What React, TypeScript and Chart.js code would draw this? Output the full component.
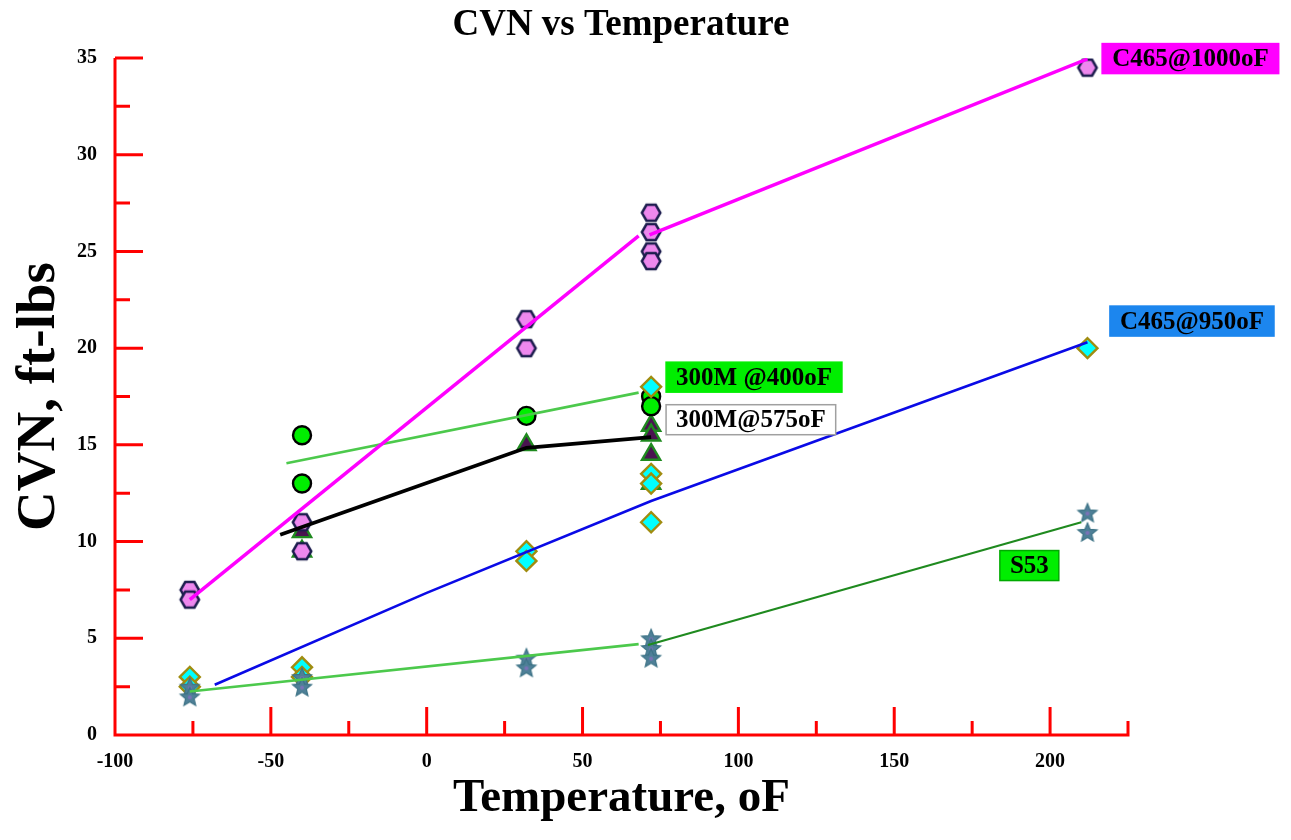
import React, { useEffect, useRef } from 'react';
import { Chart, registerables } from 'chart.js';

Chart.register(...registerables);

// ---------- tick values / labels ----------
const xTickValues = [-100, -75, -50, -25, 0, 25, 50, 75, 100, 125, 150, 175, 200, 225];
const xTickLabels = ['-100', '', '-50', '', '0', '', '50', '', '100', '', '150', '', '200', ''];
const yTickValues = [0, 2.5, 5, 7.5, 10, 12.5, 15, 17.5, 20, 22.5, 25, 27.5, 30, 32.5, 35];
const yTickLabels = ['0', '', '5', '', '10', '', '15', '', '20', '', '25', '', '30', '', '35'];

// ---------- measured points ----------
const c1000Temp = [-76, -76, -40, -40, 32, 32, 72, 72, 72, 72, 212];
const c1000Cvn = [7.5, 7.0, 11.0, 9.5, 21.5, 20.0, 27.0, 26.0, 25.0, 24.5, 34.5];

const c950Temp = [-76, -76, -40, -40, 32, 32, 72, 72, 72, 72, 212];
const c950Cvn = [3.0, 2.5, 3.5, 3.0, 9.5, 9.0, 18.0, 13.5, 13.0, 11.0, 20.0];

const m400Temp = [-40, -40, 32, 72, 72];
const m400Cvn = [15.5, 13.0, 16.5, 17.5, 17.0];

const m575Temp = [-40, -40, 32, 72, 72, 72, 72];
const m575Cvn = [10.5, 9.5, 15.0, 16.0, 15.5, 14.5, 13.0];

const s53Temp = [-76, -76, -40, -40, 32, 32, 72, 72, 72, 212, 212];
const s53Cvn = [2.5, 2.0, 3.0, 2.5, 4.0, 3.5, 5.0, 4.5, 4.0, 11.5, 10.5];

// ---------- fitted curves ----------
const c1000FitATemp = [-76, 68];
const c1000FitACvn = [7.0, 25.8];
const c1000FitBTemp = [71.5, 212];
const c1000FitBCvn = [25.85, 34.95];

const c950FitTemp = [-68, 0, 72, 212];
const c950FitCvn = [2.6, 7.35, 12.1, 20.3];

const m400FitTemp = [-45, 68];
const m400FitCvn = [14.05, 17.7];

const m575FitTemp = [-47, 32, 72];
const m575FitCvn = [10.35, 14.85, 15.4];

const s53FitATemp = [-76, 68];
const s53FitACvn = [2.25, 4.7];
const s53FitBTemp = [71, 210];
const s53FitBCvn = [4.65, 11.0];

// ---------- series labels ----------
const labelTexts = ['C465@1000oF', 'C465@950oF', '300M @400oF', '300M@575oF', 'S53'];
const labelTemp = [216.7, 219.2, 76.8, 76.8, 183.9];
const labelCvn = [34.97, 21.4, 18.5, 16.3, 8.76];
const labelFills = ['#ff00ff', '#1c86ee', '#00ee00', '#ffffff', '#00ee00'];
const labelBorders = ['#ff00ff', '#1c86ee', '#00ee00', '#a0a0a0', '#00aa00'];

const SERIF = '"Liberation Serif", "Times New Roman", serif';

const pts = (xs: number[], ys: number[]) => xs.map((x, i) => ({ x, y: ys[i] }));

function makeCanvas(w: number, h: number) {
  const c = document.createElement('canvas');
  c.width = w;
  c.height = h;
  return c;
}

function makeHexagon(r: number, fill: string, stroke: string, lw: number) {
  const size = Math.ceil(2 * r + 2 * lw + 2);
  const c = makeCanvas(size, size);
  const g = c.getContext('2d')!;
  const cx = size / 2;
  g.beginPath();
  for (let i = 0; i < 6; i++) {
    const a = (Math.PI / 3) * i;
    const px = cx + r * Math.cos(a);
    const py = cx + r * Math.sin(a);
    if (i === 0) g.moveTo(px, py);
    else g.lineTo(px, py);
  }
  g.closePath();
  g.fillStyle = fill;
  g.fill();
  g.lineWidth = lw;
  g.strokeStyle = stroke;
  g.stroke();
  return c;
}

function makeStar(ro: number, ri: number, fill: string, stroke: string, center: string) {
  const size = Math.ceil(2 * ro + 4);
  const c = makeCanvas(size, size);
  const g = c.getContext('2d')!;
  const cx = size / 2;
  const cy = size / 2 + 1;
  g.beginPath();
  for (let i = 0; i < 10; i++) {
    const r = i % 2 === 0 ? ro : ri;
    const a = -Math.PI / 2 + (Math.PI / 5) * i;
    const px = cx + r * Math.cos(a);
    const py = cy + r * Math.sin(a);
    if (i === 0) g.moveTo(px, py);
    else g.lineTo(px, py);
  }
  g.closePath();
  g.fillStyle = fill;
  g.fill();
  g.lineWidth = 1.2;
  g.strokeStyle = stroke;
  g.stroke();
  g.beginPath();
  g.arc(cx, cy, 2, 0, Math.PI * 2);
  g.fillStyle = center;
  g.fill();
  return c;
}

const axesPlugin = {
  id: 'redAxes',
  beforeDatasetsDraw(chart: any) {
    const { ctx, chartArea, scales } = chart;
    const { left, right, top, bottom } = chartArea;
    const x = scales.x;
    const y = scales.y;
    ctx.save();
    ctx.strokeStyle = '#ff0000';
    ctx.lineWidth = 3;
    ctx.beginPath();
    ctx.moveTo(left, top);
    ctx.lineTo(left, bottom);
    ctx.lineTo(right + 1.5, bottom);
    xTickValues.forEach((v, i) => {
      const px = x.getPixelForValue(v);
      const len = xTickLabels[i] !== '' ? 28 : 14;
      ctx.moveTo(px, bottom);
      ctx.lineTo(px, bottom - len);
    });
    yTickValues.forEach((v, i) => {
      const py = y.getPixelForValue(v);
      const len = yTickLabels[i] !== '' ? 28 : 15;
      ctx.moveTo(left, py);
      ctx.lineTo(left + len, py);
    });
    ctx.stroke();
    ctx.restore();
  },
};

const labelPlugin = {
  id: 'seriesLabels',
  afterDraw(chart: any) {
    const { ctx, scales } = chart;
    ctx.save();
    ctx.font = `bold 25px ${SERIF}`;
    ctx.textBaseline = 'middle';
    ctx.textAlign = 'left';
    labelTexts.forEach((text, i) => {
      const px = scales.x.getPixelForValue(labelTemp[i]);
      const py = scales.y.getPixelForValue(labelCvn[i]);
      const w = ctx.measureText(text).width + 20;
      const h = 30;
      ctx.fillStyle = labelFills[i];
      ctx.fillRect(px, py - h / 2, w, h);
      ctx.strokeStyle = labelBorders[i];
      ctx.lineWidth = 1.5;
      ctx.strokeRect(px, py - h / 2, w, h);
      ctx.fillStyle = '#000000';
      ctx.fillText(text, px + 10, py + 1);
    });
    ctx.restore();
  },
};

export default function App() {
  const canvasRef = useRef<HTMLCanvasElement | null>(null);

  useEffect(() => {
    if (!canvasRef.current) return;
    const hexagon = makeHexagon(9.2, '#ee88ee', '#1c1c4e', 2.5);
    const star = makeStar(10, 4.5, '#4f8098', '#3d7386', '#7b72b8');

    const line = (xs: number[], ys: number[], color: string, width: number, order: number) => ({
      data: pts(xs, ys),
      showLine: true,
      borderColor: color,
      borderWidth: width,
      pointRadius: 0,
      pointHoverRadius: 0,
      fill: false,
      order,
    });

    const chart = new Chart(canvasRef.current, {
      type: 'scatter',
      data: {
        datasets: [
          line(c1000FitATemp, c1000FitACvn, '#ff00ff', 3.5, 0),
          line(c1000FitBTemp, c1000FitBCvn, '#ff00ff', 3.5, 0),
          line(c950FitTemp, c950FitCvn, '#0a0ae6', 2.6, 1),
          line(m575FitTemp, m575FitCvn, '#000000', 3.8, 2),
          line(m400FitTemp, m400FitCvn, '#4cc94c', 2.6, 3),
          line(s53FitATemp, s53FitACvn, '#4cc94c', 2.6, 4),
          line(s53FitBTemp, s53FitBCvn, '#1f8a1f', 2.2, 5),
          {
            label: 'S53',
            data: pts(s53Temp, s53Cvn),
            pointStyle: star,
            pointRadius: 9,
            order: 10,
          },
          {
            label: 'C465@950oF',
            data: pts(c950Temp, c950Cvn),
            pointStyle: 'rectRot',
            pointRadius: 10,
            backgroundColor: '#00ffff',
            borderColor: '#a08c10',
            pointBorderWidth: 2.4,
            order: 11,
          },
          {
            label: 'C465@1000oF',
            data: pts(c1000Temp, c1000Cvn),
            pointStyle: hexagon,
            pointRadius: 9,
            order: 12,
          },
          {
            label: '300M @400oF',
            data: pts(m400Temp, m400Cvn),
            pointStyle: 'circle',
            pointRadius: 9,
            backgroundColor: '#00ee00',
            borderColor: '#000000',
            pointBorderWidth: 2.4,
            order: 13,
          },
          {
            label: '300M@575oF',
            data: pts(m575Temp, m575Cvn),
            pointStyle: 'triangle',
            pointRadius: 10.5,
            backgroundColor: '#4a1450',
            borderColor: '#1f8a1f',
            pointBorderWidth: 2.4,
            order: 14,
          },
        ] as any,
      },
      options: {
        animation: false,
        responsive: true,
        maintainAspectRatio: false,
        layout: { padding: { left: 0, right: 49, top: 0, bottom: 0 } },
        plugins: {
          legend: { display: false },
          tooltip: { enabled: false },
          title: {
            display: true,
            text: 'CVN vs Temperature',
            color: '#000000',
            font: { family: SERIF, size: 37, weight: 'bold' },
            padding: { top: 3, bottom: 10.6 },
          },
        },
        scales: {
          x: {
            type: 'linear',
            min: -100,
            max: 225,
            grid: { display: false, drawTicks: false },
            border: { display: false },
            afterBuildTicks: (scale: any) => {
              scale.ticks = xTickValues.map((v) => ({ value: v }));
            },
            afterFit: (scale: any) => {
              scale.height = 105;
            },
            ticks: {
              autoSkip: false,
              maxRotation: 0,
              padding: 15,
              color: '#000000',
              font: { family: SERIF, size: 20, weight: 'bold' },
              callback: (_v: any, i: number) => xTickLabels[i],
            },
            title: {
              display: true,
              text: 'Temperature, oF',
              color: '#000000',
              font: { family: SERIF, size: 47, weight: 'bold' },
              padding: { top: 0, bottom: 13 },
            },
          },
          y: {
            type: 'linear',
            min: 0,
            max: 35,
            grid: { display: false, drawTicks: false },
            border: { display: false },
            afterBuildTicks: (scale: any) => {
              scale.ticks = yTickValues.map((v) => ({ value: v }));
            },
            afterFit: (scale: any) => {
              scale.width = 115;
            },
            ticks: {
              autoSkip: false,
              padding: 18,
              color: '#000000',
              font: { family: SERIF, size: 20, weight: 'bold' },
              callback: (_v: any, i: number) => yTickLabels[i],
            },
            title: {
              display: true,
              text: 'CVN, ft-lbs',
              color: '#000000',
              font: { family: SERIF, size: 55, weight: 'bold' },
              padding: { top: 6.5, bottom: 0 },
            },
          },
          yRight: {
            type: 'linear',
            position: 'right',
            min: 0,
            max: 35,
            display: true,
            grid: { display: false, drawTicks: false },
            border: { display: false },
            ticks: { display: false },
            afterFit: (scale: any) => {
              scale.width = 114;
            },
          },
        },
      } as any,
      plugins: [axesPlugin, labelPlugin],
    });

    return () => chart.destroy();
  }, []);

  return (
    <div style={{ position: 'absolute', left: 0, top: 0, width: 1291, height: 840, background: '#ffffff' }}>
      <canvas ref={canvasRef} />
    </div>
  );
}
